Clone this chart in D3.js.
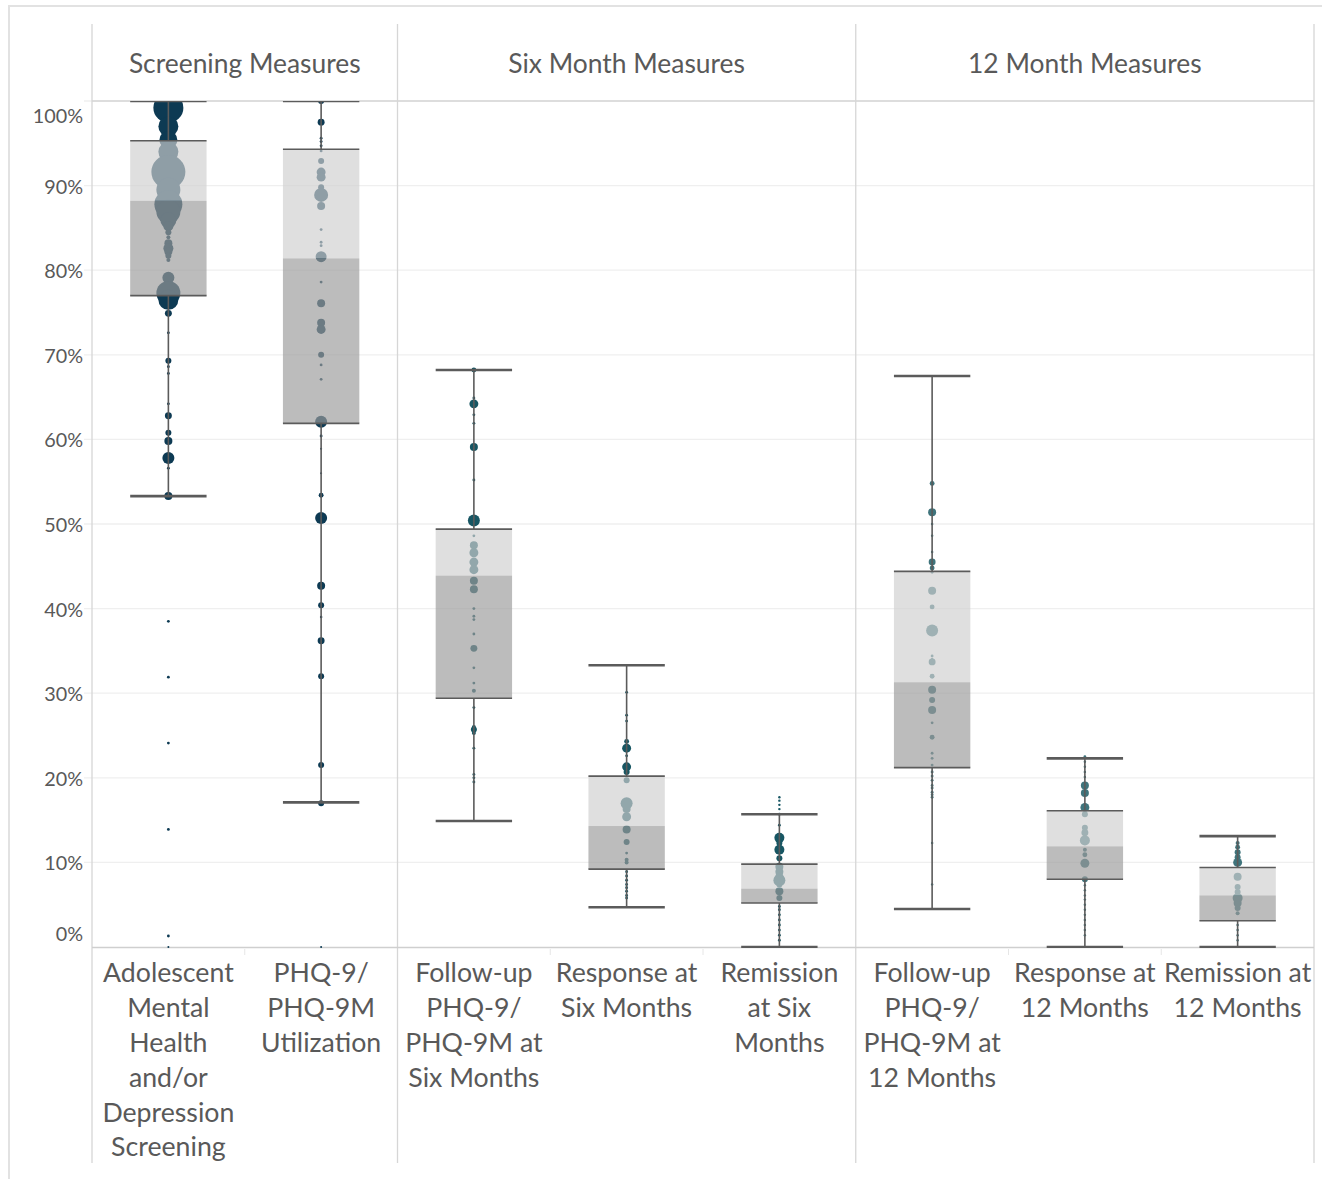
<!DOCTYPE html>
<html><head><meta charset="utf-8">
<script src="https://cdn.jsdelivr.net/npm/d3@7/dist/d3.min.js"></script>
<style>
html,body{margin:0;padding:0;background:#fff;}
svg{display:block;}
text{font-family:Lato,"Open Sans",sans-serif;fill:#595959;}
</style></head>
<body>
<svg id="chart" width="1322" height="1179"></svg>
<script>
// ---------- DATA ----------
const groups = ["Screening Measures", "Six Month Measures", "12 Month Measures"];
const categories = [
  "Adolescent Mental Health and/or Depression Screening",
  "PHQ-9/PHQ-9M Utilization",
  "Follow-up PHQ-9/PHQ-9M at Six Months",
  "Response at Six Months",
  "Remission at Six Months",
  "Follow-up PHQ-9/PHQ-9M at 12 Months",
  "Response at 12 Months",
  "Remission at 12 Months"
];
const categoryLines = [
  ["Adolescent","Mental","Health","and/or","Depression","Screening"],
  ["PHQ-9/","PHQ-9M","Utilization"],
  ["Follow-up","PHQ-9/","PHQ-9M at","Six Months"],
  ["Response at","Six Months"],
  ["Remission","at Six","Months"],
  ["Follow-up","PHQ-9/","PHQ-9M at","12 Months"],
  ["Response at","12 Months"],
  ["Remission at","12 Months"]
];
const categoryGroup = [0,0,1,1,1,2,2,2];
const yTicks = [0,10,20,30,40,50,60,70,80,90,100];

// box plot statistics (%)
const whiskerLow  = [53.3, 17.1, 14.9,  4.7,  0.0,  4.5,  0.0,  0.0];
const quartile1   = [77.0, 61.9, 29.4,  9.2,  5.2, 21.2,  8.0,  3.1];
const medians     = [88.2, 81.4, 43.9, 14.3,  6.9, 31.3, 11.9,  6.1];
const quartile3   = [95.3, 94.3, 49.4, 20.2,  9.8, 44.4, 16.1,  9.4];
const whiskerHigh = [100,  100,  68.2, 33.3, 15.7, 67.5, 22.3, 13.1];

// individual results: [rate %, weight]
const dotsScreening = [[99.2,225],[97.0,100],[95.4,81],[94.0,100],[92.4,100],[91.6,289],[89.5,144],[87.8,196],[86.9,144],
  [85.9,64],[85.2,25],[84.5,9],[83.9,4],[83.2,16],[82.6,25],[82.2,16],[81.7,9],[81.2,4],[79.1,36],[77.3,144],[76.5,100],
  [74.9,12],[72.6,2],[69.3,9],[68.6,2],[67.8,2],[64.2,2],[62.8,12],[60.8,9],[59.8,16],[57.8,36],[56.6,2],[53.3,16],
  [38.5,2],[31.9,2],[24.1,2],[13.9,2],[1.3,2],[0,1]];
const dotsUtilization = [[100,9],[97.5,12],[95.6,2],[95.2,2],[94.7,2],[94.1,2],[92.9,9],[91.6,20],[91.0,20],[89.8,9],
  [88.9,49],[87.6,16],[84.8,2],[83.3,2],[82.9,2],[81.6,30],[78.6,2],[76.1,16],[73.8,16],[73.0,20],[70.0,9],[68.8,2],
  [67.1,2],[62.1,36],[60.4,2],[58.9,1],[56.0,1],[53.4,6],[50.7,36],[42.7,16],[40.4,9],[39.0,1.5],[36.2,12],[32.0,9],
  [21.5,9],[17.0,9],[0,1]];
const dotsFollowUp6 = [[68.2,6],[64.9,2],[64.2,20],[62.9,2],[61.9,2],[59.1,16],[55.2,2],[50.4,36],[48.6,2],[47.5,16],
  [46.6,20],[45.5,20],[44.6,20],[43.3,16],[42.3,16],[40.0,2],[39.1,2],[38.7,2],[37.0,2],[35.3,12],[33.0,2],[31.2,2],
  [30.3,4],[28.3,2],[26.0,4],[25.7,9],[25.3,4],[23.5,2],[20.4,2],[20.0,2],[19.5,2]];
const dotsResponse6 = [[30.1,2],[27.4,2],[26.7,2],[24.3,6],[23.5,20],[22.6,2],[21.3,20],[20.7,9],[19.7,9],[17.0,36],
  [16.3,16],[15.4,20],[13.9,16],[12.4,9],[11.1,2],[10.3,4],[10.0,4],[8.9,2],[8.4,2],[7.9,2],[7.4,2],[7.0,2],[6.6,2],
  [6.1,2],[5.8,2]];
const dotsRemission6 = [[17.7,1.5],[17.3,1.5],[16.8,1.5],[16.3,1.5],[15.7,2],[14.4,2],[12.9,25],[12.3,9],[11.5,25],
  [10.5,9],[9.5,16],[8.9,16],[8.3,16],[7.9,36],[7.4,9],[6.6,16],[5.8,9],[4.8,2],[4.4,2],[3.8,2],[3.2,2],[2.6,2],[2.0,2],
  [1.4,2],[0.8,2]];
const dotsFollowUp12 = [[54.8,6],[51.4,16],[50.0,1.5],[48.6,1.5],[46.7,1.5],[45.5,12],[44.8,6],[44.3,2],[42.1,16],
  [40.2,6],[37.4,36],[34.4,2],[34.0,2],[33.7,12],[32.0,6],[30.4,16],[29.2,9],[28.0,16],[26.5,2],[24.8,6],[22.9,2],
  [22.3,2],[21.5,2],[20.7,2],[20.2,2],[19.7,2],[19.1,2],[18.8,2],[18.3,2],[18.0,2],[17.7,2],[12.3,1.5],[7.4,1.5]];
const dotsResponse12 = [[22.5,2],[21.9,1.5],[21.3,1.5],[20.7,1.5],[20.1,1.5],[19.1,16],[18.2,16],[16.5,20],[15.7,9],
  [14.1,9],[13.5,12],[12.6,25],[11.5,4],[10.9,6],[9.9,20],[8.0,9],[7.3,1.5],[6.7,1.5],[6.1,1.5],[5.6,1.5],[5.0,1.5],
  [4.4,1.5],[3.8,1.5],[3.2,1.5],[2.6,1.5],[2.0,1.5],[1.4,1.5]];
const dotsRemission12 = [[12.3,4],[11.8,6],[11.2,9],[10.6,9],[10.0,20],[8.3,16],[7.1,9],[6.5,9],[5.8,25],[5.2,16],
  [4.6,9],[4.0,4],[2.6,1.5],[2.0,1.5],[1.4,1.5],[0.8,1.5]];
const dotsByCategory = [dotsScreening, dotsUtilization, dotsFollowUp6, dotsResponse6, dotsRemission6,
  dotsFollowUp12, dotsResponse12, dotsRemission12];
const groupColors = ["#0d3a53", "#175663", "#3f747c"];

// ---------- LAYOUT ----------
const svg = d3.select("#chart");
const paneL = 92, paneR = 1314, plotT = 101, plotB = 947, headT = 24, bottomEnd = 1163;
const x = d3.scaleBand().domain(categories).range([paneL, paneR]);
const y = d3.scaleLinear().domain([0, 100]).range([plotB, plotT]);
const r = d3.scaleSqrt().domain([0, 289]).range([0, 17]);
const bw = x.bandwidth() * 0.5;
const cx = i => x(categories[i]) + x.bandwidth() / 2;

// outer frame
svg.append("path").attr("d", `M9,1179 V6 H1322`).attr("fill","none").attr("stroke","#e2e2e2").attr("stroke-width",2);

// gridlines
svg.append("g").selectAll("line").data(yTicks.filter(t => t > 0)).join("line")
  .attr("x1", 84).attr("x2", paneR).attr("y1", d => y(d)).attr("y2", d => y(d))
  .attr("stroke", "#efefef").attr("stroke-width", 1.3);

// group boundaries
const groupStart = groups.map((g, gi) => categoryGroup.indexOf(gi));
const bounds = groups.map((g, gi) => x(categories[groupStart[gi]])).concat([paneR]);
svg.append("g").selectAll("line").data(bounds).join("line")
  .attr("x1", d => d).attr("x2", d => d).attr("y1", headT).attr("y2", bottomEnd)
  .attr("stroke", "#d6d6d6").attr("stroke-width", 1.3);
svg.append("line").attr("x1", paneL).attr("x2", paneR).attr("y1", plotT).attr("y2", plotT)
  .attr("stroke", "#d6d6d6").attr("stroke-width", 1.3);
svg.append("line").attr("x1", paneL).attr("x2", paneR).attr("y1", plotB + 0.5).attr("y2", plotB + 0.5)
  .attr("stroke", "#cfcfcf").attr("stroke-width", 1.5);
// category separators below axis
svg.append("g").selectAll("line").data(categories.filter((c, i) => i > 0 && categoryGroup[i] === categoryGroup[i-1])).join("line")
  .attr("x1", d => x(d)).attr("x2", d => x(d)).attr("y1", plotB + 2).attr("y2", plotB + 8)
  .attr("stroke", "#e6e6e6").attr("stroke-width", 1);

// headers
svg.append("g").selectAll("text").data(groups).join("text")
  .attr("x", (d, gi) => (bounds[gi] + bounds[gi + 1]) / 2).attr("y", 64).attr("dy", "0.35em")
  .attr("text-anchor", "middle").style("font-size", "26.4px").text(d => d);

// y-axis labels
svg.append("g").selectAll("text").data(yTicks).join("text")
  .attr("x", 83).attr("y", d => d === 100 ? y(d) + 15 : d === 0 ? y(d) - 13 : y(d) + 1)
  .attr("dy", "0.35em").attr("text-anchor", "end").style("font-size", "19.8px")
  .text(d => d + "%");

// clip
svg.append("clipPath").attr("id", "pane").append("rect")
  .attr("x", paneL).attr("y", plotT).attr("width", paneR - paneL).attr("height", plotB - plotT + 1);
const plot = svg.append("g").attr("clip-path", "url(#pane)");

// dots
dotsByCategory.forEach((dots, i) => {
  plot.append("g").selectAll("circle").data(dots).join("circle")
    .attr("cx", cx(i)).attr("cy", d => y(d[0])).attr("r", d => r(d[1]))
    .attr("fill", groupColors[categoryGroup[i]]);
});

// boxes (semi-transparent, above dots)
categories.forEach((c, i) => {
  const g = plot.append("g");
  const x0 = cx(i) - bw / 2;
  g.append("rect").attr("x", x0).attr("width", bw)
    .attr("y", y(quartile3[i])).attr("height", y(medians[i]) - y(quartile3[i]))
    .attr("fill", "#d0d0d0").attr("fill-opacity", 0.67);
  g.append("rect").attr("x", x0).attr("width", bw)
    .attr("y", y(medians[i])).attr("height", y(quartile1[i]) - y(medians[i]))
    .attr("fill", "#9b9b9b").attr("fill-opacity", 0.67);
  // whiskers
  g.append("line").attr("x1", cx(i)).attr("x2", cx(i)).attr("y1", y(whiskerHigh[i])).attr("y2", y(quartile3[i]))
    .attr("stroke", "#5b5b5b").attr("stroke-width", 1.6);
  g.append("line").attr("x1", cx(i)).attr("x2", cx(i)).attr("y1", y(quartile1[i])).attr("y2", y(whiskerLow[i]))
    .attr("stroke", "#5b5b5b").attr("stroke-width", 1.6);
  [quartile1[i], quartile3[i]].forEach(v => g.append("line")
    .attr("x1", x0).attr("x2", x0 + bw).attr("y1", y(v)).attr("y2", y(v))
    .attr("stroke", "#5b5b5b").attr("stroke-width", 1.6));
  [whiskerLow[i], whiskerHigh[i]].forEach(v => g.append("line")
    .attr("x1", x0).attr("x2", x0 + bw).attr("y1", y(v)).attr("y2", y(v))
    .attr("stroke", "#5b5b5b").attr("stroke-width", 2.6));
});

// category labels
categoryLines.forEach((lines, i) => {
  const t = svg.append("text").attr("text-anchor", "middle").style("font-size", "26.7px")
    .attr("x", cx(i)).attr("y", 973);
  lines.forEach((ln, k) => t.append("tspan").attr("x", cx(i)).attr("y", 973 + k * 34.8).attr("dy", "0.35em").text(ln));
});
</script>
</body></html>
